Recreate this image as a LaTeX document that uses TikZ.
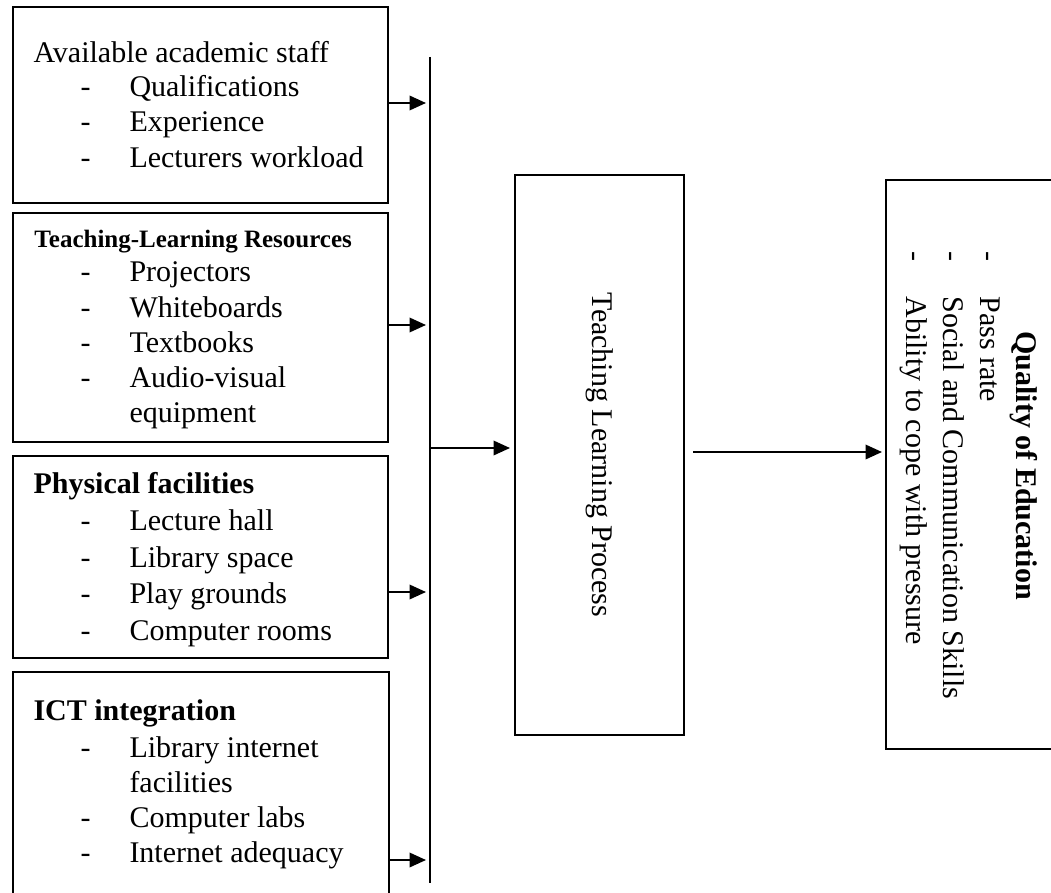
\documentclass[tikz,border=0pt]{standalone}
\usepackage{fontspec}
\setmainfont{Liberation Serif}
\usetikzlibrary{arrows.meta,fit}
\begin{document}
\begin{tikzpicture}[x=0.4pt,y=-0.4pt,
  box/.style={draw,line width=0.8pt,inner sep=0pt,outer sep=0pt},
  txt/.style={inner sep=0pt,anchor=base west,font=\fontsize{12}{14}\selectfont},
  ttl/.style={txt,font=\fontsize{12}{14}\selectfont\bfseries},
  sttl/.style={txt,font=\fontsize{10}{12}\selectfont\bfseries},
  arr/.style={-{Triangle[length=6.6pt,width=5.8pt]},line width=0.8pt},
  vline/.style={line width=0.5pt}
]
\useasboundingbox (0,0) rectangle (1051,892);

% boxes
\node[box,fit={(13,7) (388,203)}] (b1) {};
\node[box,fit={(13,213) (388,442)}] (b2) {};
\node[box,fit={(13,456) (388,658)}] (b3) {};
\node[box,fit={(13,672) (389,915)}] (b4) {};
\node[box,fit={(515,175) (684,735)}] (tlp) {};
\node[box,fit={(886,180) (1065,749)}] (qoe) {};

% box 1
\node[txt] (t1) at (33,63) {Available academic staff};
\node[txt] (d11) at (80,97) {-};  \node[txt] (i11) at (129,97) {Qualifications};
\node[txt] (d12) at (80,132) {-}; \node[txt] (i12) at (129,132) {Experience};
\node[txt] (d13) at (80,168) {-}; \node[txt] (i13) at (129,168) {Lecturers workload};

% box 2
\node[sttl] (t2) at (34,248) {Teaching-Learning Resources};
\node[txt] (d21) at (80,282) {-}; \node[txt] (i21) at (129,282) {Projectors};
\node[txt] (d22) at (80,317) {-}; \node[txt] (i22) at (129,317) {Whiteboards};
\node[txt] (d23) at (80,352) {-}; \node[txt] (i23) at (129,352) {Textbooks};
\node[txt] (d24) at (80,387) {-}; \node[txt] (i24) at (129,387) {Audio-visual};
\node[txt] (i25) at (129,422) {equipment};

% box 3
\node[ttl] (t3) at (33,493) {Physical facilities};
\node[txt] (d31) at (80,530) {-}; \node[txt] (i31) at (129,530) {Lecture hall};
\node[txt] (d32) at (80,567) {-}; \node[txt] (i32) at (129,567) {Library space};
\node[txt] (d33) at (80,603) {-}; \node[txt] (i33) at (129,603) {Play grounds};
\node[txt] (d34) at (80,640) {-}; \node[txt] (i34) at (129,640) {Computer rooms};

% box 4
\node[ttl] (t4) at (33,720) {ICT integration};
\node[txt] (d41) at (80,757) {-}; \node[txt] (i41) at (129,757) {Library internet};
\node[txt] (i42) at (129,792) {facilities};
\node[txt] (d43) at (80,827) {-}; \node[txt] (i43) at (129,827) {Computer labs};
\node[txt] (d44) at (80,862) {-}; \node[txt] (i44) at (129,862) {Internet adequacy};

% teaching learning process
\node[inner sep=0pt,rotate=-90,font=\fontsize{12}{14}\selectfont] (tlpt) at (tlp.center) {Teaching Learning Process};

% quality of education
\node[ttl,rotate=-90] (qt) at (1016,331) {Quality of Education};
\node[txt,rotate=-90] (qd1) at (980,251) {-}; \node[txt,rotate=-90] (qi1) at (980,296) {Pass rate};
\node[txt,rotate=-90] (qd2) at (943,251) {-}; \node[txt,rotate=-90] (qi2) at (943,296) {Social and Communication Skills};
\node[txt,rotate=-90] (qd3) at (906,251) {-}; \node[txt,rotate=-90] (qi3) at (906,296) {Ability to cope with pressure};

% vertical collector line
\coordinate (vt) at (430,57);
\coordinate (vb) at (430,883);
\draw[vline] (vt) -- (vb);

% arrows from boxes to line
\coordinate (a1) at (426,103);
\coordinate (a2) at (426,325);
\coordinate (a3) at (426,592);
\coordinate (a4) at (426,860);
\draw[arr] (b1.east |- a1) -- (a1);
\draw[arr] (b2.east |- a2) -- (a2);
\draw[arr] (b3.east |- a3) -- (a3);
\draw[arr] (b4.east |- a4) -- (a4);

% arrow into process
\coordinate (m1) at (430,448);
\draw[arr,shorten >=2pt] (m1) -- (tlp.west |- m1);

% arrow to outcome
\coordinate (m2) at (684,452);
\draw[arr,shorten <=3.6pt,shorten >=1.6pt] (tlp.east |- m2) -- (qoe.west |- m2);
\end{tikzpicture}
\end{document}
